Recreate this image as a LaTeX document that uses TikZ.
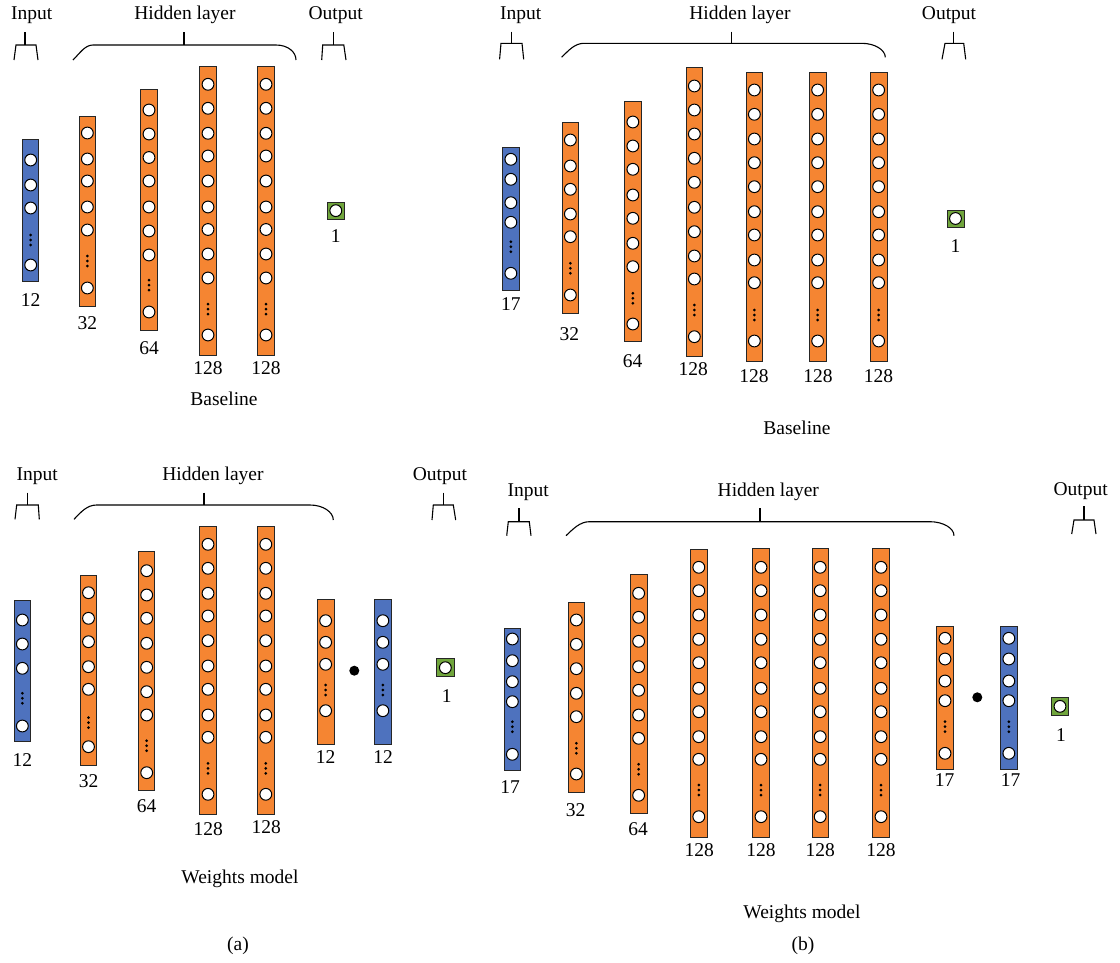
\documentclass[tikz,border=0pt]{standalone}
\usepackage{fontspec}
\setmainfont{Liberation Serif}
\definecolor{norange}{RGB}{245,133,50}
\definecolor{nblue}{RGB}{78,114,190}
\definecolor{ngreen}{RGB}{112,165,60}
\newcommand\lblfont{\fontsize{19.5}{21}\selectfont}
\newcommand\nnlayer[7]{%
  \draw[layerbox,fill=#5] (#1,#3) rectangle (#2,#4);
  \foreach \yy in {#6}{\draw[neuron] ({(#1+#2)/2},\yy) circle[radius=5.9pt];}
  \foreach \dd in {-5,0,5}{\fill ({(#1+#2)/2},{#7+\dd}) circle[radius=1.5pt];}
}
\newcommand\nnout[5]{% xl xr top bottom
  \draw[layerbox,fill=ngreen] (#1,#3) rectangle (#2,#4);
  \draw[neuron] ({(#1+#2)/2},{(#3+#4)/2}) circle[radius=5.9pt];
}
\begin{document}
\begin{tikzpicture}[x=1pt,y=-1pt,
  layerbox/.style={draw=black!85,line width=1pt},
  neuron/.style={draw=black,fill=white,line width=1pt},
  lbl/.style={font=\lblfont,anchor=base,inner sep=0pt},
  brk/.style={line width=1.1pt,line join=miter}]
\useasboundingbox (0,0) rectangle (1120,962);

% ================= panel (a) top =================
\node[lbl] (aTin) at (31.7,19.5) {Input};
\node[lbl] (aThid) at (185,19.5) {Hidden layer};
\node[lbl] (aTout) at (335.7,19.5) {Output};
\draw[brk] (25,32) -- (25,45);
\draw[brk] (14,60) -- (16,45) -- (36,45) -- (38,60);
\draw[brk] (184,32) -- (184,45);
\draw[brk] (73,60) .. controls (80,53) and (85,45) .. (93,45) -- (276,45) .. controls (288,45) and (296,52) .. (296,60);
\draw[brk] (333.3,32) -- (333.3,45);
\draw[brk] (321.7,60) -- (322.7,45) -- (343.8,45) -- (346,60);

\nnlayer{22.7}{38.7}{139.3}{281.7}{nblue}{160,185,208,265}{240}
\nnlayer{79}{95.7}{116}{306}{norange}{133,159,181,207,230,288}{261}
\nnlayer{140.7}{157.3}{89.3}{330}{norange}{110,134,157.5,181,207,231,255,312}{285}
\nnlayer{199.3}{216.7}{66.3}{355}{norange}{84.3,108.3,133.3,156,181,207,229.5,254,278,335}{309}
\nnlayer{257.7}{274.3}{66.3}{355}{norange}{84.3,108.3,133.3,156,181,207,229.5,254,278,335}{309}
\nnout{327.3}{344.3}{202}{219.3}

\node[lbl] (aTn1) at (30.7,306.7) {12};
\node[lbl] (aTn2) at (87.3,329.5) {32};
\node[lbl] (aTn3) at (149,354.5) {64};
\node[lbl] (aTn4) at (208,374) {128};
\node[lbl] (aTn5) at (266,374) {128};
\node[lbl] (aTn6) at (335.8,242.5) {1};
\node[lbl] (aTcap) at (224,405) {Baseline};

% ================= panel (a) bottom =================
\node[lbl] (aBin) at (37.2,480) {Input};
\node[lbl] (aBhid) at (213,480) {Hidden layer};
\node[lbl] (aBout) at (440,480) {Output};
\draw[brk] (27.3,492.7) -- (27.3,505);
\draw[brk] (15,519.3) -- (16.7,505) -- (38.3,505) -- (39.3,519.3);
\draw[brk] (204,492.7) -- (204,505);
\draw[brk] (74,519.3) .. controls (81,512) and (87,505) .. (96.7,505) -- (310,505) .. controls (323,505) and (333.3,512) .. (333.3,520);
\draw[brk] (443.3,492.7) -- (443.3,505);
\draw[brk] (432,520) -- (433.3,505) -- (453.3,505) -- (455.7,520);

\nnlayer{14}{30.7}{600}{741.7}{nblue}{620,644,668.3,726}{698.3}
\nnlayer{80.3}{96.7}{575.7}{765.7}{norange}{592.7,618.3,641.7,666.7,689.3,746.7}{722.7}
\nnlayer{138.7}{154.7}{551}{790}{norange}{570.7,595,618.3,643.3,667.3,691.7,715,772.7}{745.7}
\nnlayer{199.3}{216.7}{526.7}{814}{norange}{544.3,568.3,593.3,616,640.7,666,689.3,715,737.3,794.3}{768.3}
\nnlayer{257.3}{274.3}{526.7}{814}{norange}{544.3,568.3,593.3,616,640.7,666,689.3,715,737.3,794.3}{768.3}
\nnlayer{317.3}{334}{599}{744}{norange}{620.7,642.3,664.3,710.7}{690}
\fill (354.3,670.7) circle[radius=5pt];
\nnlayer{374.7}{391}{599}{744}{nblue}{620.7,642.3,664.3,710.7}{690}
\nnout{436.7}{454}{658.7}{676.7}

\node[lbl] (aBn1) at (22.3,766) {12};
\node[lbl] (aBn2) at (88.5,787.3) {32};
\node[lbl] (aBn3) at (146.7,812.7) {64};
\node[lbl] (aBn4) at (208.3,835) {128};
\node[lbl] (aBn5) at (266.3,833.3) {128};
\node[lbl] (aBn6) at (325.7,763.3) {12};
\node[lbl] (aBn7) at (383,763.3) {12};
\node[lbl] (aBn8) at (446.7,702.7) {1};
\node[lbl] (aBcap) at (240,883) {Weights model};
\node[lbl] (acap) at (238,950) {(a)};

% ================= panel (b) top =================
\node[lbl] (bTin) at (520.8,19.5) {Input};
\node[lbl] (bThid) at (740,19.5) {Hidden layer};
\node[lbl] (bTout) at (949,19.5) {Output};
\draw[brk] (511.4,31.7) -- (511.4,43.3);
\draw[brk] (499.6,59.3) -- (501,43.3) -- (522,43.3) -- (523.7,59.3);
\draw[brk] (731.4,31.7) -- (731.4,43.3);
\draw[brk] (561.6,57.3) .. controls (569,50) and (575,43.3) .. (584,43.3) -- (861.6,43.3) .. controls (875,43.3) and (885.3,50) .. (885.3,57.3);
\draw[brk] (953.5,31.7) -- (953.5,43.3);
\draw[brk] (942,59.3) -- (945,43.3) -- (963.7,43.3) -- (965.7,59.3);

\nnlayer{502.7}{519}{147.7}{290}{nblue}{159.3,179.3,202.7,222.3,273.3}{246.7}
\nnlayer{562}{578.7}{122.7}{313.3}{norange}{140,166,189.3,214,236.7,295}{268.3}
\nnlayer{624.7}{641}{101.7}{341.7}{norange}{122,146,169.3,195,218.3,243.3,266.7,324}{298.3}
\nnlayer{686}{702.7}{67.3}{356.7}{norange}{86,110,134,158.3,182.3,207.3,231.7,256,279,336.7}{310}
\nnlayer{746}{762.7}{72}{361}{norange}{90,114.3,139,162.7,186.7,211.7,235,260,282.7,341}{315}
\nnlayer{809.3}{826}{72}{361}{norange}{90,114.3,139,162.7,186.7,211.7,235,260,282.7,341}{315}
\nnlayer{870.3}{887}{72}{361}{norange}{90,114.3,139,162.7,186.7,211.7,235,260,282.7,341}{315}
\nnout{947}{964}{210}{227}

\node[lbl] (bTn1) at (510.8,310.7) {17};
\node[lbl] (bTn2) at (569.3,340) {32};
\node[lbl] (bTn3) at (632.7,367.3) {64};
\node[lbl] (bTn4) at (693.3,375) {128};
\node[lbl] (bTn5) at (754,382.7) {128};
\node[lbl] (bTn6) at (818,382.7) {128};
\node[lbl] (bTn7) at (878.5,382.7) {128};
\node[lbl] (bTn8) at (955.5,252) {1};
\node[lbl] (bTcap) at (797,434) {Baseline};

% ================= panel (b) bottom =================
\node[lbl] (bBin) at (528.3,496.7) {Input};
\node[lbl] (bBhid) at (768.3,496.5) {Hidden layer};
\node[lbl] (bBout) at (1080.7,495.5) {Output};
\draw[brk] (519,508.3) -- (519,521.7);
\draw[brk] (506.7,535.7) -- (508.3,521.7) -- (529.3,521.7) -- (531,535.7);
\draw[brk] (760,508.3) -- (760,521.7);
\draw[brk] (566,535.7) .. controls (573,529) and (580,521.7) .. (589.3,521.7) -- (930,521.7) .. controls (943,521.7) and (954,528) .. (954,535.7);
\draw[brk] (1084,506) -- (1084,520);
\draw[brk] (1071.7,534) -- (1074,520) -- (1094,520) -- (1096,534);

\nnlayer{504}{520.7}{628}{770}{nblue}{639,660.7,681.7,701.7,754.3}{726.7}
\nnlayer{568}{584.7}{602.7}{792.7}{norange}{620,644.3,668.7,693.3,716.7,774}{748.3}
\nnlayer{630.3}{647}{574}{813.3}{norange}{593.3,617.3,641.3,666.7,690.3,715,738.3,795.3}{769.3}
\nnlayer{690.3}{707.3}{549}{837.3}{norange}{567.3,590.7,615,639.3,662.7,688.3,711.7,736.7,759.3,816.7}{790}
\nnlayer{752.7}{769.3}{548.3}{837.3}{norange}{567.3,590.7,615,639.3,662.7,688.3,711.7,736.7,759.3,816.7}{790}
\nnlayer{812}{828.3}{548.3}{837.3}{norange}{567.3,590.7,615,639.3,662.7,688.3,711.7,736.7,759.3,816.7}{790}
\nnlayer{872.7}{889.3}{548.3}{837.3}{norange}{567.3,590.7,615,639.3,662.7,688.3,711.7,736.7,759.3,816.7}{790}
\nnlayer{936.7}{953.3}{626.7}{769}{norange}{638.3,659,681,700.7,753.3}{726.7}
\fill (977.3,697.3) circle[radius=5pt];
\nnlayer{1000.7}{1017}{626.7}{769}{nblue}{638.3,659,681,700.7,753.3}{726.7}
\nnout{1051.7}{1068.3}{697.7}{715}

\node[lbl] (bBn1) at (510,793.3) {17};
\node[lbl] (bBn2) at (575.5,816.7) {32};
\node[lbl] (bBn3) at (638,835) {64};
\node[lbl] (bBn4) at (699.3,856.7) {128};
\node[lbl] (bBn5) at (761,856.7) {128};
\node[lbl] (bBn6) at (820.2,856.7) {128};
\node[lbl] (bBn7) at (881,856.7) {128};
\node[lbl] (bBn8) at (944.5,786.7) {17};
\node[lbl] (bBn9) at (1010.7,786.7) {17};
\node[lbl] (bBn10) at (1061,741.7) {1};
\node[lbl] (bBcap) at (802,918) {Weights model};
\node[lbl] (bcap) at (803,950) {(b)};
\end{tikzpicture}
\end{document}
